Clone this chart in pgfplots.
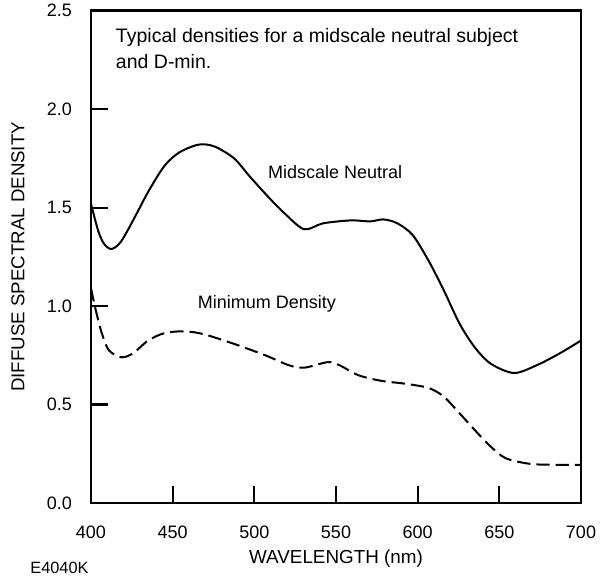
\documentclass[border=0pt]{standalone}
\usepackage{pgfplots}
\pgfplotsset{compat=1.18}
\usepackage{fontspec}
\setmainfont{Liberation Sans}
\begin{document}
\begin{tikzpicture}
\begin{axis}[
  scale only axis,
  width=294pt, height=295.4pt,
  xmin=400, xmax=700, ymin=0, ymax=2.5,
  xtick={400,450,...,700},
  ytick={0,0.5,...,2.5},
  tick align=inside,
  xtick pos=bottom, ytick pos=left,
  major tick length=10pt,
  axis line style={line width=1.4pt},
  every outer x axis line/.append style={line width=1.4pt},
  every outer y axis line/.append style={line width=1.4pt},
  major tick style={line width=1.3pt, draw=black},
  font=\fontsize{10.8}{13}\selectfont,
  /pgf/number format/assume math mode=true,
  yticklabel style={/pgf/number format/fixed, /pgf/number format/fixed zerofill, /pgf/number format/precision=1, xshift=-8pt},
  xticklabel style={/pgf/number format/1000 sep={}, yshift=-10pt},
  xlabel={WAVELENGTH (nm)},
  ylabel={DIFFUSE SPECTRAL DENSITY},
  x label style={at={(axis description cs:0.5,0)}, anchor=center, yshift=-33.6pt, font=\fontsize{11.3}{13}\selectfont},
  y label style={at={([xshift=-43.8pt]axis description cs:0,0.5)}, anchor=center, rotate=0, font=\fontsize{11.2}{13}\selectfont},
  clip=false,
]
\addplot[black, line width=1.2pt, smooth, tension=0.5] coordinates {
(400,1.52) (404.3,1.385) (407.9,1.317) (412.6,1.29) (418.6,1.33) (428,1.47)
(435,1.58) (444.8,1.71) (454,1.78) (466,1.82) (475.7,1.81) (487.6,1.75)
(497,1.66) (509,1.55) (518.6,1.47) (530.5,1.39) (542,1.42) (559,1.435)
(571,1.43) (579,1.44) (587.6,1.42) (597,1.36) (606.7,1.23) (616,1.08)
(625.7,0.91) (635,0.79) (644.8,0.707) (659,0.66) (673,0.70) (687,0.76) (700,0.825)
};
\addplot[black, line width=1.2pt, smooth, tension=0.5, dash pattern=on 8pt off 3.6pt] coordinates {
(400,1.09) (403,0.976) (406.7,0.86) (411,0.775) (418.6,0.74) (425.7,0.76)
(435,0.825) (444.8,0.862) (456.7,0.872) (468.6,0.858) (487.6,0.808)
(506.7,0.75) (521,0.70) (530.5,0.687) (544.8,0.715) (552,0.70) (564,0.648)
(578,0.62) (592,0.606) (606.7,0.584) (616,0.54) (625.7,0.455) (635,0.37)
(644.8,0.286) (654,0.227) (668.6,0.199) (683,0.194) (700,0.194)
};
\node[anchor=base west, inner sep=0pt, font=\fontsize{11.7}{13}\selectfont] at (axis cs:415.1,2.338) {Typical densities for a midscale neutral subject};
\node[anchor=base west, inner sep=0pt, font=\fontsize{11.7}{13}\selectfont] at (axis cs:415.1,2.208) {and D-min.};
\node[anchor=base west, inner sep=0pt] at (axis cs:508.2,1.648) {Midscale Neutral};
\node[anchor=base west, inner sep=0pt] at (axis cs:465.3,0.987) {Minimum Density};
\node[anchor=center, inner sep=0pt, font=\fontsize{9.8}{12}\selectfont] at ([xshift=-18.9pt, yshift=-39pt]axis description cs:0,0) {E4040K};
\end{axis}
\pgfresetboundingbox
\path (current axis.south west) ++(-54.6pt,-46.2pt) coordinate (bl);
\path (current axis.north east) ++(18pt,6.4pt) coordinate (tr);
\path[use as bounding box] (bl) rectangle (tr);
\end{tikzpicture}
\end{document}
